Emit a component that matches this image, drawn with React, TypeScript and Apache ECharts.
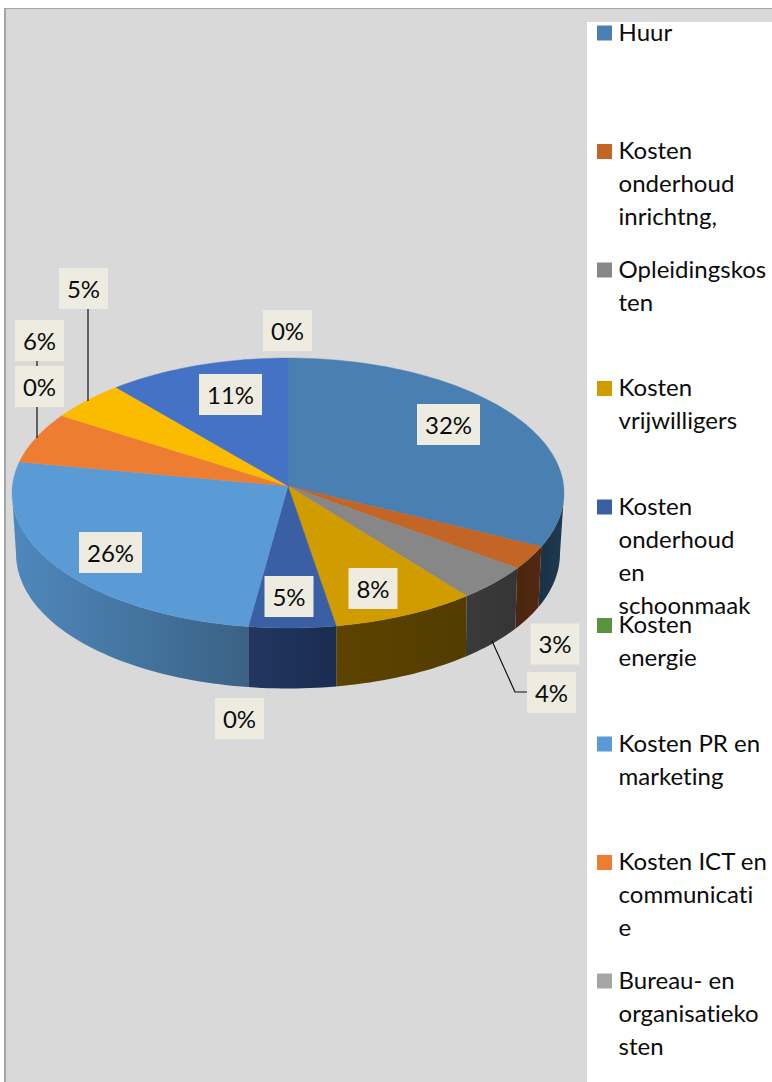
import React, { useEffect, useRef } from "react";
import * as echarts from "echarts";

const categories = [
  "Huur",
  "Kosten onderhoud inrichtng,",
  "Opleidingskosten",
  "Kosten vrijwilligers",
  "Kosten onderhoud en schoonmaak",
  "Kosten energie",
  "Kosten PR en marketing",
  "Kosten ICT en communicatie",
  "Bureau- en organisatiekosten",
  "Overige kosten A",
  "Overige kosten B",
  "Overige kosten C",
];
const values = [31.5, 2.9, 4.4, 8.4, 5.1, 0, 26.4, 6.0, 0, 4.6, 10.7, 0];
const legendLines = [
  ["Huur"],
  ["Kosten", "onderhoud", "inrichtng,"],
  ["Opleidingskos", "ten"],
  ["Kosten", "vrijwilligers"],
  ["Kosten", "onderhoud", "en", "schoonmaak"],
  ["Kosten", "energie"],
  ["Kosten PR en", "marketing"],
  ["Kosten ICT en", "communicati", "e"],
  ["Bureau- en", "organisatieko", "sten"],
];
const topColors = [
  "#4a7fb1", "#c26527", "#878787", "#d09c00", "#3a5fa3", "#5b9240",
  "#5b9bd5", "#ed7d31", "#a5a5a5", "#fbbc00", "#4472c4", "#255e91",
];
// Wall shades, left to right
const wallColors: string[][] = [
  ["#1b3145", "#1e3a52"], ["#4a2610", "#52290f"], ["#3a3a3a", "#353535"],
  ["#5e4300", "#523c00"], ["#223661", "#1a2c50"], ["#2e4a20", "#2e4a20"],
  ["#4f88bd", "#3a6285"], ["#ed7d31", "#ed7d31"], ["#a5a5a5", "#a5a5a5"],
  ["#fbbc00", "#fbbc00"], ["#4472c4", "#4472c4"], ["#255e91", "#255e91"],
];
// Label box centres, one per slice
const labelCentres = [
  [448.5, 424.5], [555, 644], [551.5, 692.5], [373, 588.5], [289, 596.5], [239.5, 718.5],
  [110.5, 552.5], [39.5, 340.5], [39.5, 386.5], [83.5, 288.5], [230.5, 394.5], [287.5, 330.5],
];
const leaderLines = [
  [[88, 309], [88, 401]],
  [[37, 361], [37, 438]],
  [[492, 641], [515, 692], [527, 692]],
];

const FONT = "Lato, 'Open Sans', sans-serif";
const PIE = { cx: 288, cy: 493, rx: 276, ry: 135, apexY: 486, depth: 60.5, inset: 4 };
const total = values.reduce((a, b) => a + b, 0);

const rim = (a: number, lower = false): number[] => {
  const s = Math.sin(a);
  const inset = lower ? PIE.inset * Math.sign(s) * s ** 4 : 0;
  return [PIE.cx + PIE.rx * s - inset, PIE.cy - PIE.ry * Math.cos(a) + (lower ? PIE.depth : 0)];
};
const arcPoints = (a0: number, a1: number, lower = false): number[][] => {
  const n = Math.max(2, Math.ceil(((a1 - a0) / Math.PI) * 120));
  const pts: number[][] = [];
  for (let i = 0; i <= n; i++) pts.push(rim(a0 + ((a1 - a0) * i) / n, lower));
  return pts;
};

const renderSlice = (params: any) => {
  const i = params.dataIndex;
  const v = values[i];
  if (v <= 0) return { type: "group", children: [] };
  const before = values.slice(0, i).reduce((a, b) => a + b, 0);
  const a0 = (before / total) * 2 * Math.PI;
  const a1 = ((before + v) / total) * 2 * Math.PI;
  const children: any[] = [];
  const w0 = Math.max(a0, Math.PI / 2);
  const w1 = Math.min(a1, (3 * Math.PI) / 2);
  if (w1 > w0) {
    const upper = arcPoints(w0, w1);
    const lower = arcPoints(w0, w1, true).reverse();
    const fill = new echarts.graphic.LinearGradient(0, 0, 1, 0, [
      { offset: 0, color: wallColors[i][0] },
      { offset: 1, color: wallColors[i][1] },
    ]);
    children.push({
      type: "polygon",
      shape: { points: [...upper, ...lower] },
      style: { fill, stroke: null },
    });
  }
  children.push({
    type: "polygon",
    shape: { points: [[PIE.cx, PIE.apexY], ...arcPoints(a0, a1)] },
    style: { fill: topColors[i], stroke: topColors[i], lineWidth: 0.4 },
  });
  return { type: "group", children };
};

const renderLabel = (params: any) => {
  const i = params.dataIndex;
  const text = `${Math.round((values[i] / total) * 100)}%`;
  const w = text.length > 2 ? 63 : 49;
  const [x, y] = labelCentres[i];
  return {
    type: "group",
    children: [
      { type: "rect", shape: { x: x - w / 2, y: y - 20.5, width: w, height: 41 }, style: { fill: "#eeece1" } },
      {
        type: "text",
        x,
        y: y - 0.5,
        style: { text, fill: "#0c0c0c", font: `24px ${FONT}`, align: "center", verticalAlign: "middle" },
      },
    ],
  };
};

const legendGraphics = (): any[] => {
  const out: any[] = [];
  legendLines.forEach((lines, i) => {
    const y0 = 33 + 118.5 * i;
    out.push({
      type: "rect",
      shape: { x: 597, y: y0 - 7.5, width: 15, height: 15 },
      style: { fill: topColors[i] },
    });
    lines.forEach((line, j) => {
      out.push({
        type: "text",
        x: 618.5,
        y: y0 - 2 + j * 33,
        style: { text: line, fill: "#0c0c0c", font: `24px ${FONT}`, align: "left", verticalAlign: "middle" },
      });
    });
  });
  return out;
};

export default function App() {
  const ref = useRef<HTMLDivElement>(null);
  useEffect(() => {
    document.body.style.margin = "0";
    document.body.style.overflow = "hidden";
    const chart = echarts.init(ref.current!, undefined, { renderer: "svg" });
    chart.setOption({
      animation: false,
      backgroundColor: "#ffffff",
      graphic: [
        { type: "rect", z: 0, shape: { x: 4, y: 8, width: 768, height: 1074 }, style: { fill: "#a6a6a6" } },
        { type: "rect", z: 0, shape: { x: 6, y: 9, width: 766, height: 1073 }, style: { fill: "#d9d9d9" } },
        { type: "rect", z: 0, shape: { x: 587, y: 22, width: 185, height: 1060 }, style: { fill: "#ffffff" } },
        ...legendGraphics().map((g) => ({ ...g, z: 1 })),
      ],
      series: [
        {
          type: "custom",
          name: "Kosten",
          coordinateSystem: "none",
          z: 2,
          silent: true,
          data: values.map((value, i) => ({ name: categories[i], value })),
          renderItem: renderSlice,
        },
        {
          type: "custom",
          name: "Leaders",
          coordinateSystem: "none",
          z: 3,
          silent: true,
          data: leaderLines.map((_, i) => i),
          renderItem: (params: any) => ({
            type: "polyline",
            shape: { points: leaderLines[params.dataIndex] },
            style: { stroke: "#111111", lineWidth: 1.2, fill: null },
          }),
        },
        {
          type: "custom",
          name: "Labels",
          coordinateSystem: "none",
          z: 4,
          silent: true,
          data: values.map((value, i) => ({ name: categories[i], value })),
          renderItem: renderLabel,
        },
      ],
    });
    return () => chart.dispose();
  }, []);
  return <div ref={ref} style={{ width: 772, height: 1082, letterSpacing: "0.02px" }} />;
}
